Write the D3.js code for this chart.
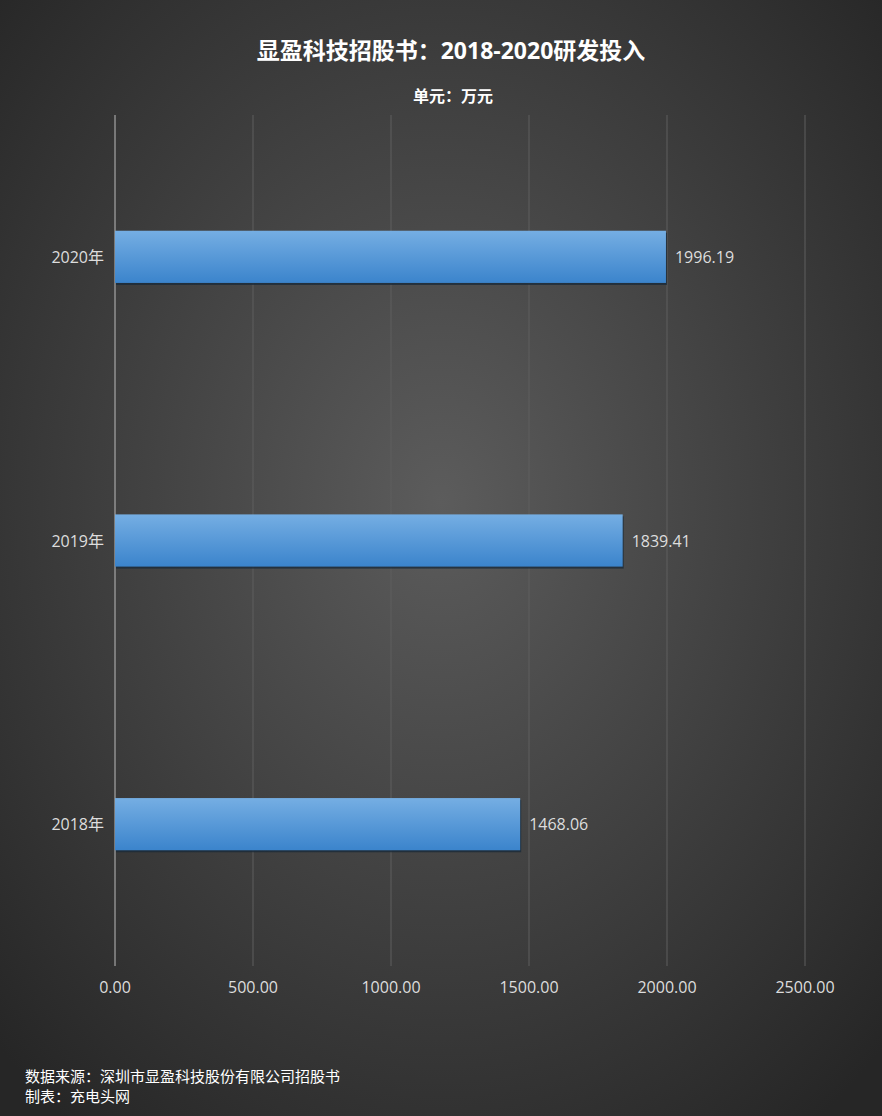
<!DOCTYPE html>
<html><head><meta charset="utf-8">
<script src="https://cdn.jsdelivr.net/npm/d3@7"></script>
<style>body{margin:0;background:#333}svg text{font-family:"Open Sans","Noto Sans CJK SC",sans-serif}</style>
</head><body><div id="canvas"></div>
<script>
var categories = ["2020年", "2019年", "2018年"];
var values = [1996.19, 1839.41, 1468.06];
var ticks = [0, 500, 1000, 1500, 2000, 2500];

var width = 882, height = 1116;
var svg = d3.select("#canvas").append("svg").attr("width", width).attr("height", height);
var defs = svg.append("defs");

var bg = defs.append("radialGradient").attr("id", "bg").attr("cx", "50%").attr("cy", "45%").attr("r", "70%");
bg.append("stop").attr("offset", "0%").attr("stop-color", "#5c5c5c");
bg.append("stop").attr("offset", "100%").attr("stop-color", "#262626");
svg.append("rect").attr("width", width).attr("height", height).attr("fill", "url(#bg)");

var bar = defs.append("linearGradient").attr("id", "bar").attr("x1", 0).attr("y1", 0).attr("x2", 0).attr("y2", 1);
bar.append("stop").attr("offset", "0%").attr("stop-color", "#75aee3");
bar.append("stop").attr("offset", "100%").attr("stop-color", "#3b84cc");

var x = d3.scaleLinear().domain([0, 2500]).range([115, 805]);
var y = d3.scaleBand().domain(categories).range([115, 966]).paddingInner(0.816).paddingOuter(0.408);

// grid
svg.append("g").selectAll("line").data(ticks).enter().append("line")
    .attr("x1", d => x(d)).attr("x2", d => x(d)).attr("y1", 115).attr("y2", 966)
    .attr("stroke", d => d === 0 ? "#bbb" : "#5e5e5e").attr("stroke-width", 1);

svg.append("g").selectAll("text").data(ticks).enter().append("text")
    .attr("x", d => x(d)).attr("y", 993).attr("text-anchor", "middle")
    .attr("fill", "#ddd").style("font-size", "16px").text(d => d.toFixed(2));

svg.append("g").selectAll("text").data(categories).enter().append("text")
    .attr("x", 104).attr("y", d => y(d) + y.bandwidth() / 2 + 6).attr("text-anchor", "end")
    .attr("fill", "#ddd").style("font-size", "16px").text(d => d);

// bar shadows
svg.append("g").selectAll("rect").data(values).enter().append("rect")
    .attr("x", x(0) + 1).attr("y", (d, i) => y(categories[i]) + 2)
    .attr("width", d => x(d) - x(0)).attr("height", y.bandwidth())
    .attr("fill", "#1a2a3a").attr("opacity", 0.8);
svg.append("g").selectAll("rect").data(values).enter().append("rect")
    .attr("x", x(0)).attr("y", (d, i) => y(categories[i]))
    .attr("width", d => x(d) - x(0)).attr("height", y.bandwidth())
    .attr("fill", "url(#bar)");

svg.append("g").selectAll("text").data(values).enter().append("text")
    .attr("x", d => x(d) + 9).attr("y", (d, i) => y(categories[i]) + y.bandwidth() / 2 + 6)
    .attr("fill", "#ddd").style("font-size", "16px").text(d => d.toFixed(2));

svg.append("text").attr("x", 451).attr("y", 59).attr("text-anchor", "middle")
    .attr("fill", "#fff").style("font-size", "23px").style("font-weight", "bold")
    .text("显盈科技招股书：2018-2020研发投入");
svg.append("text").attr("x", 453).attr("y", 102).attr("text-anchor", "middle")
    .attr("fill", "#fff").style("font-size", "16px").style("font-weight", "bold")
    .text("单元：万元");

svg.append("text").attr("x", 25).attr("y", 1082).attr("fill", "#fff").style("font-size", "15px")
    .text("数据来源：深圳市显盈科技股份有限公司招股书");
svg.append("text").attr("x", 25).attr("y", 1102).attr("fill", "#fff").style("font-size", "15px")
    .text("制表：充电头网");
</script></body></html>
